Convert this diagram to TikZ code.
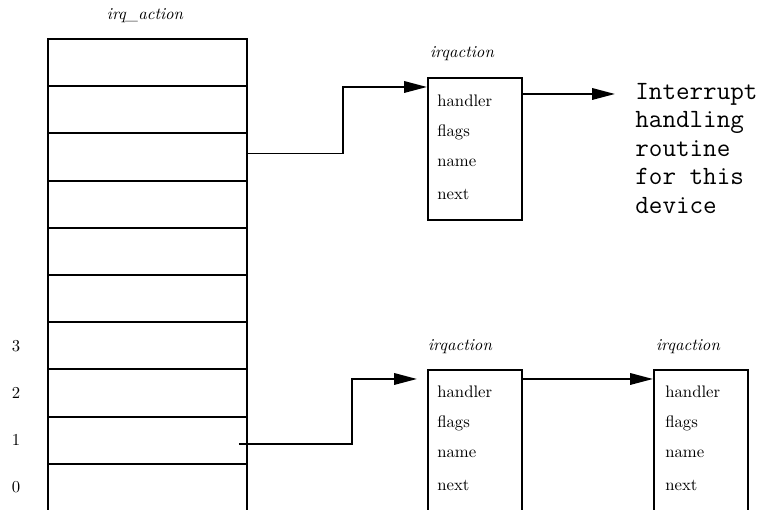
\documentclass[tikz,border=0pt]{standalone}
\usetikzlibrary{arrows.meta}

\tikzset{
  slot/.style={draw,line width=1.1pt,minimum width=3.98cm,minimum height=0.944cm,inner sep=0pt},
  rec/.style={draw,line width=1.1pt,minimum width=1.88cm,anchor=north west,inner sep=0pt},
  fld/.style={anchor=west,inner sep=0pt,font=\fontsize{9.5}{11}\selectfont},
  ttl/.style={inner sep=0pt,font=\fontsize{9.5}{11}\selectfont\itshape},
  ptr/.style={line width=1.1pt,-{Triangle[length=13pt,width=6.5pt]}}
}

\begin{document}
\begin{tikzpicture}
\useasboundingbox (0,0) rectangle (15.4,10.2);
\clip (0,0) rectangle (15.4,10.2);

%irq_action table
\foreach \k in {0,...,9}
  \node[slot] (row\k) at (2.95,{0.452+0.944*\k}) {};
\node[ttl] (tbl) at (2.9,9.88) {irq\_action};
\foreach \k in {0,...,3}
  \node[fld,anchor=center] (num\k) at (0.32,{0.452+0.944*\k}) {\k};

%irqaction, top
\node[rec,minimum height=2.84cm] (act) at (8.54,8.66) {};
\node[ttl] (actl) at (9.24,9.12) {irqaction};
\foreach \f [count=\i] in {handler,flags,name,next}
  \node[fld] (act\i) at ([shift={(0.2,{-0.48-0.62*(\i-1)})}]act.north west) {\f};

%handler routine
\node[anchor=north west,inner sep=0pt,align=left,
      font=\ttfamily\fontsize{15}{16.2}\selectfont] (isr) at (12.7,8.54)
  {Interrupt\\handling\\routine\\for this\\device};

%irqaction, bottom
\node[rec,minimum height=3.3cm] (b1) at (8.54,2.82) {};
\node[ttl] (b1l) at (9.2,3.26) {irqaction};
\foreach \f [count=\i] in {handler,flags,name,next}
  \node[fld] (b1\i) at ([shift={(0.2,{-0.46-0.62*(\i-1)})}]b1.north west) {\f};

\node[rec,minimum height=3.3cm] (b2) at (13.06,2.82) {};
\node[ttl] (b2l) at (13.76,3.26) {irqaction};
\foreach \f [count=\i] in {handler,flags,name,next}
  \node[fld] (b2\i) at ([shift={(0.24,{-0.46-0.62*(\i-1)})}]b2.north west) {\f};

%pointers
\draw[ptr] ([yshift=2pt]row7.east) -| ([shift={(-1.68,-0.2)}]act.north west)
  -- ([yshift=-0.2cm]act.north west);
\draw[ptr] ([yshift=-0.34cm]act.north east) -- ([shift={(-0.4,-0.22)}]isr.north west);
\draw[ptr] ([shift={(-0.18,-0.07)}]row1.east) -| ([shift={(-1.5,-0.2)}]b1.north west)
  -- ([shift={(-0.2,-0.2)}]b1.north west);
\draw[ptr] ([yshift=-0.2cm]b1.north east) -- ([yshift=-0.2cm]b2.north west);
\end{tikzpicture}
\end{document}
